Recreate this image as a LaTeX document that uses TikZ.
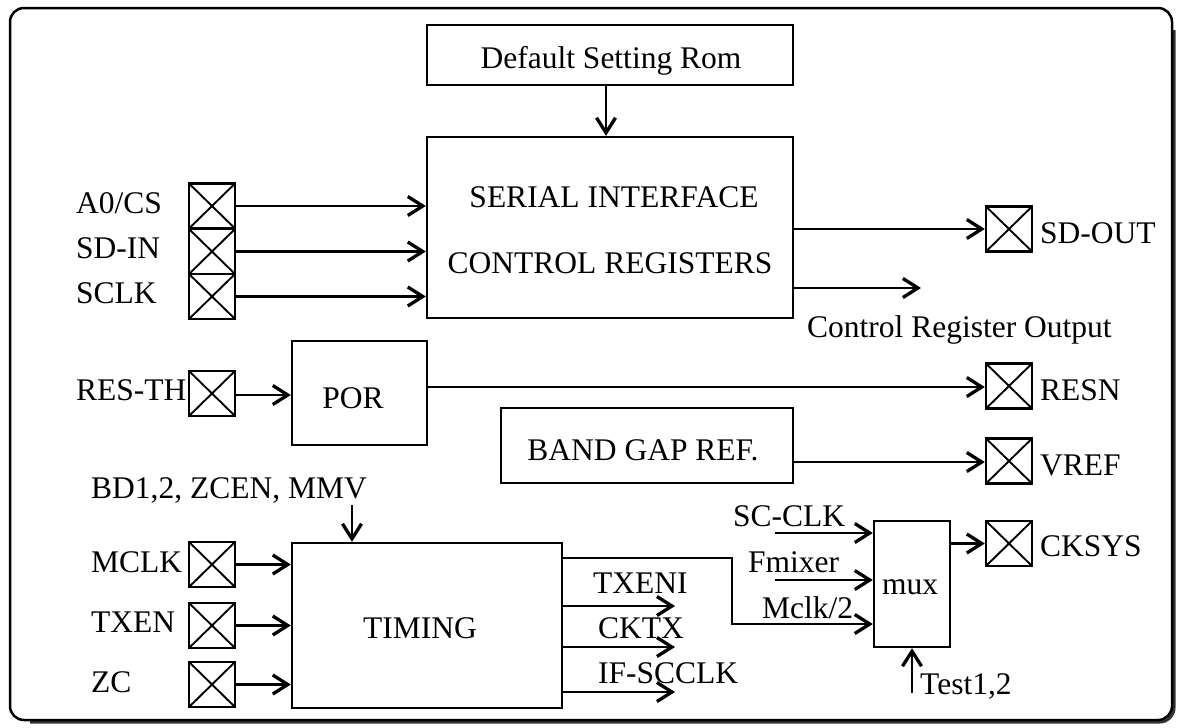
\documentclass[tikz,border=0pt]{standalone}
\usepackage{fontspec}
\setmainfont{Liberation Serif}
\usetikzlibrary{arrows.meta,calc}
\begin{document}
\begin{tikzpicture}[x=1pt,y=-1pt,
  box/.style={draw, line width=2.3pt, inner sep=0pt},
  pad/.style={draw, line width=2.3pt, minimum width=46pt, minimum height=45pt, inner sep=0pt,
    path picture={\draw[line width=1.9pt] (path picture bounding box.north west) -- (path picture bounding box.south east) (path picture bounding box.south west) -- (path picture bounding box.north east);}},
  txt/.style={font=\fontsize{31.5}{37}\selectfont, inner sep=0pt},
  conn/.style={line width=2.6pt, -{Straight Barb[length=15pt,width=19pt,line width=3.3pt]}},
  wire/.style={line width=2.6pt}
]
\useasboundingbox (0,0) rectangle (1181,728);
% frame with shadow
\draw[line width=3pt, black!80, rounded corners=14pt] (1174,30) -- (1174,722) -- (30,722);
\draw[line width=2.5pt, rounded corners=14pt] (10,8) rectangle (1172,720);

% blocks
\node[box, minimum width=366pt, minimum height=60pt] (dsr) at (610,55) {};
\node[box, minimum width=366pt, minimum height=181pt] (sic) at (610,227.5) {};
\node[box, minimum width=135pt, minimum height=104pt] (por) at (359.5,393) {};
\node[box, minimum width=292pt, minimum height=75pt] (bg) at (647,445.5) {};
\node[box, minimum width=270pt, minimum height=165pt] (tim) at (427,625.5) {};
\node[box, minimum width=76pt, minimum height=126pt] (mux) at (912,584) {};

% block texts
\node[txt, anchor=base] (tDSR) at (611,68) {Default Setting Rom};
\node[txt, anchor=base] (tSI1) at (614,207) {SERIAL INTERFACE};
\node[txt, anchor=base] (tSI2) at (610,273) {CONTROL REGISTERS};
\node[txt, anchor=base] (tPOR) at (353,408) {POR};
\node[txt, anchor=base] (tBG) at (643,460) {BAND GAP REF.};
\node[txt, anchor=base] (tTIM) at (420,638) {TIMING};
\node[txt, anchor=base] (tMUX) at (910,594) {mux};

% pads
\node[pad] (pA) at (212,206) {};
\node[pad] (pSDI) at (212,251.5) {};
\node[pad] (pSCLK) at (212,296.5) {};
\node[pad] (pRES) at (212,393.5) {};
\node[pad] (pMCLK) at (212,564.5) {};
\node[pad] (pTXEN) at (212,625.5) {};
\node[pad] (pZC) at (212,684.5) {};
\node[pad] (pSDO) at (1009,229) {};
\node[pad] (pRESN) at (1009,386) {};
\node[pad] (pVREF) at (1009,461) {};
\node[pad] (pCK) at (1009,543.5) {};

% pad labels
\node[txt, anchor=base west] (tA) at (76,213) {A0/CS};
\node[txt, anchor=base west] (tSDI) at (76,258) {SD-IN};
\node[txt, anchor=base west] (tSCLK) at (76,303) {SCLK};
\node[txt, anchor=base west] (tRES) at (76,400) {RES-TH};
\node[txt, anchor=base west] (tBD) at (91,498) {BD1,2, ZCEN, MMV};
\node[txt, anchor=base west] (tMCLK) at (91,572) {MCLK};
\node[txt, anchor=base west] (tTXEN) at (91,632) {TXEN};
\node[txt, anchor=base west] (tZC) at (91,692) {ZC};
\node[txt, anchor=base west] (tSDO) at (1040,243) {SD-OUT};
\node[txt, anchor=base west] (tRESN) at (1040,400) {RESN};
\node[txt, anchor=base west] (tVREF) at (1040,475) {VREF};
\node[txt, anchor=base west] (tCK) at (1040,556) {CKSYS};
\node[txt, anchor=base west] (tCRO) at (807,337) {Control Register Output};
\node[txt, anchor=base west] (tTXENI) at (593,593) {TXENI};
\node[txt, anchor=base west] (tCKTX) at (598,638) {CKTX};
\node[txt, anchor=base west] (tIF) at (598,683) {IF-SCCLK};
\node[txt, anchor=base west] (tSC) at (733,526) {SC-CLK};
\node[txt, anchor=base west] (tFm) at (748,572) {Fmixer};
\node[txt, anchor=base west] (tMc) at (762,618) {Mclk/2};
\node[txt, anchor=base west] (tTest) at (920,694) {Test1,2};

% free ends
\coordinate (cro) at (921,288);
\coordinate (bdtip) at (352,505);
\coordinate (txeni) at (675,606);
\coordinate (cktx) at (675,647);
\coordinate (ifsc) at (675,692);
\coordinate (sc) at (775,533);
\coordinate (fm) at (775,580);
\coordinate (bend) at (732,558);
\coordinate (test) at (912,693);

% connectors
\draw[conn] ([xshift=-4pt]dsr.south) -- ([xshift=-4pt]sic.north);
\draw[conn] (pA.east) -- (pA.east -| sic.west);
\draw[conn] (pSDI.east) -- (pSDI.east -| sic.west);
\draw[conn] (pSCLK.east) -- (pSCLK.east -| sic.west);
\draw[conn] (pSDO.west -| sic.east) -- (pSDO.west);
\draw[conn] (cro -| sic.east) -- (cro);
\draw[conn] ([yshift=-1.5pt]pRES.east) -- ([yshift=-1.5pt]pRES.east -| por.west);
\draw[conn] ([yshift=-1pt]pRESN.west -| por.east) -- ([yshift=-1pt]pRESN.west);
\draw[conn] ([yshift=-1pt]pVREF.west -| bg.east) -- ([yshift=-1pt]pVREF.west);
\draw[conn] (bdtip) -- (bdtip |- tim.north);
\draw[conn] (pMCLK.east) -- (pMCLK.east -| tim.west);
\draw[conn] (pTXEN.east) -- (pTXEN.east -| tim.west);
\draw[conn] (pZC.east) -- (pZC.east -| tim.west);
\draw[conn] (txeni -| tim.east) -- (txeni);
\draw[conn] (cktx -| tim.east) -- (cktx);
\draw[conn] (ifsc -| tim.east) -- (ifsc);
\draw[conn] (bend -| tim.east) -- (bend) -- (bend |- 0,624) -- (mux.west |- 0,624);
\draw[conn] (sc) -- (sc -| mux.west);
\draw[conn] (fm) -- (fm -| mux.west);
\draw[conn] (pCK.west -| mux.east) -- (pCK.west);
\draw[conn] (test) -- (mux.south);
\end{tikzpicture}
\end{document}
